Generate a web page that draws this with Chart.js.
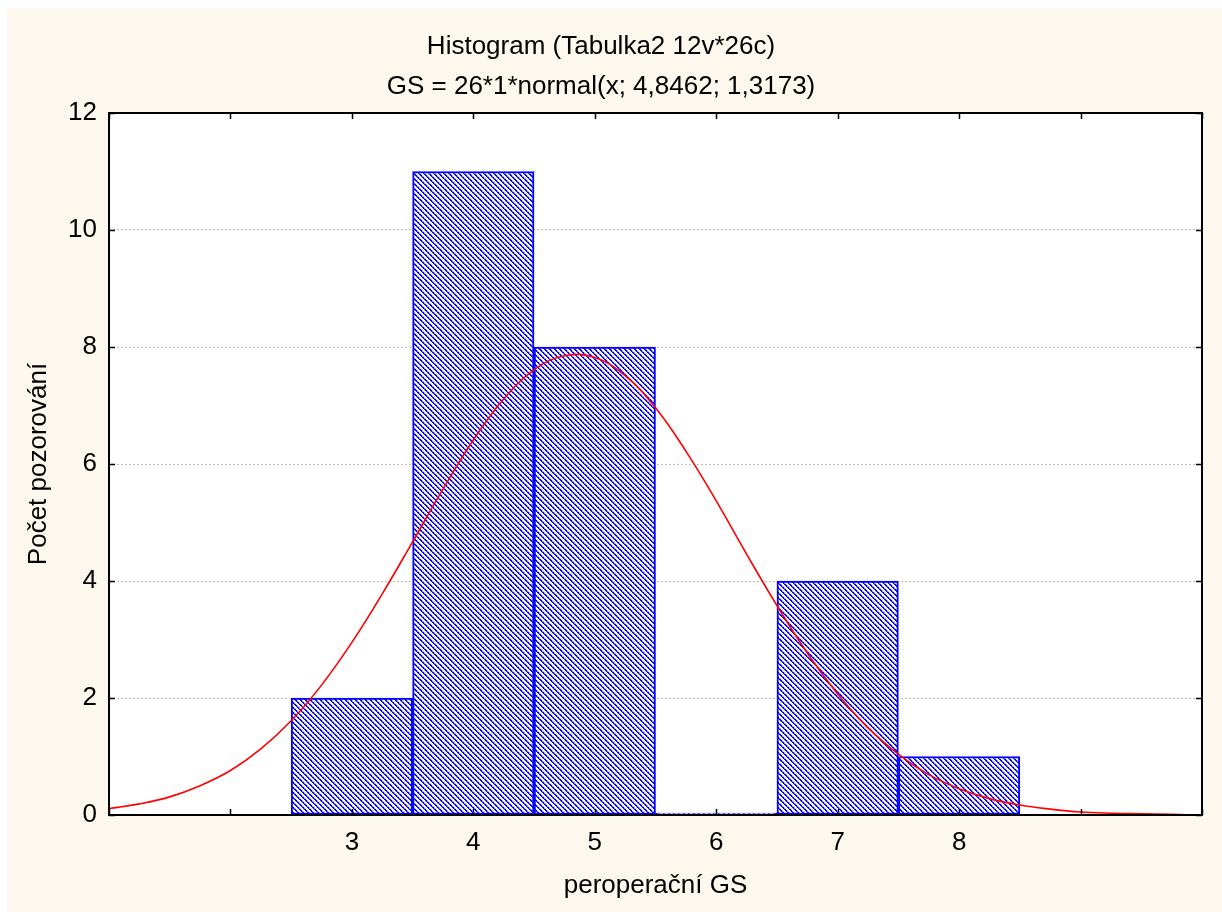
<!DOCTYPE html>
<html>
<head>
<meta charset="utf-8">
<script src="https://cdn.jsdelivr.net/npm/chart.js@4/dist/chart.umd.min.js"></script>
<style>
  html, body { margin: 0; padding: 0; background: #ffffff; }
  canvas { display: block; }
</style>
</head>
<body>
<canvas id="c" width="1222" height="912"></canvas>
<script>
// ---- data ----
const titleLines = ['Histogram (Tabulka2 12v*26c)', 'GS = 26*1*normal(x; 4,8462; 1,3173)'];
const xTitle = 'peroperační GS';
const yTitle = 'Počet pozorování';
const binCenters = [3, 4, 5, 6, 7, 8];
const counts = [2, 11, 8, 0, 4, 1];
const xTickValues = [1, 2, 3, 4, 5, 6, 7, 8, 9, 10];
const xTickLabels = ['', '', '3', '4', '5', '6', '7', '8', '', ''];
const yTickValues = [0, 2, 4, 6, 8, 10, 12];
const curveX = [1, 1.25, 1.5, 1.75, 2, 2.25, 2.5, 2.75, 3, 3.25, 3.5, 3.75, 4, 4.25, 4.5, 4.75, 5, 5.25, 5.5, 5.75, 6, 6.25, 6.5, 6.75, 7, 7.25, 7.5, 7.75, 8, 8.25, 8.5, 8.75, 9, 9.25, 9.5, 9.75, 10];
const curveY = [0.11, 0.19, 0.31, 0.50, 0.76, 1.13, 1.61, 2.22, 2.95, 3.78, 4.67, 5.57, 6.41, 7.11, 7.61, 7.85, 7.82, 7.51, 6.96, 6.22, 5.37, 4.46, 3.58, 2.77, 2.07, 1.49, 1.04, 0.69, 0.45, 0.28, 0.17, 0.10, 0.05, 0.03, 0.02, 0.01, 0.00];

// ---- hatch pattern ----
function makeHatch() {
  const n = 5;
  const t = document.createElement('canvas');
  t.width = n; t.height = n;
  const g = t.getContext('2d');
  g.fillStyle = '#ffffff';
  g.fillRect(0, 0, n, n);
  for (let r = 0; r < n; r++) {
    g.fillStyle = '#d4d4ff';
    g.fillRect((r + 2) % n, r, 1, 1);
    g.fillStyle = (r % 2 === 0) ? '#0000ff' : '#6a6aff';
    g.fillRect((r + 1) % n, r, 1, 1);
    g.fillStyle = '#0000ff';
    g.fillRect(r, r, 1, 1);
  }
  return document.getElementById('c').getContext('2d').createPattern(t, 'repeat');
}

const FONT = '"Liberation Sans", Arial, Helvetica, sans-serif';
const FS = 26;

const framePlugin = {
  id: 'frame',
  beforeDraw(chart) {
    const ctx = chart.ctx;
    const a = chart.chartArea;
    ctx.save();
    ctx.fillStyle = '#ffffff';
    ctx.fillRect(0, 0, chart.width, chart.height);
    ctx.fillStyle = '#fdf8ee';
    ctx.fillRect(7, 8, chart.width - 7, chart.height - 8);
    ctx.fillStyle = '#ffffff';
    ctx.fillRect(a.left, a.top, a.right - a.left, a.bottom - a.top);
    ctx.restore();
  },
  afterDraw(chart) {
    const ctx = chart.ctx;
    const a = chart.chartArea;
    const xs = chart.scales.x, ys = chart.scales.y;
    ctx.save();
    ctx.strokeStyle = '#000000';
    ctx.lineWidth = 1.5;
    ctx.beginPath();
    xTickValues.forEach(v => {
      const px = Math.round(xs.getPixelForValue(v)) + 0.5;
      ctx.moveTo(px, a.bottom); ctx.lineTo(px, a.bottom - 6);
      ctx.moveTo(px, a.top); ctx.lineTo(px, a.top + 6);
    });
    yTickValues.forEach(v => {
      const py = Math.round(ys.getPixelForValue(v)) + 0.5;
      ctx.moveTo(a.left, py); ctx.lineTo(a.left + 6, py);
      ctx.moveTo(a.right, py); ctx.lineTo(a.right - 6, py);
    });
    ctx.stroke();
    ctx.lineWidth = 2;
    ctx.strokeRect(a.left, a.top, a.right - a.left, a.bottom - a.top);
    ctx.restore();
  }
};

Chart.defaults.font.family = FONT;
Chart.defaults.color = '#000000';

new Chart(document.getElementById('c'), {
  type: 'bar',
  data: {
    datasets: [
      {
        type: 'line',
        label: 'normal',
        data: curveX.map((x, i) => ({ x: x, y: curveY[i] })),
        borderColor: '#ff0000',
        borderWidth: 1.6,
        pointRadius: 0,
        tension: 0.4,
        fill: false,
        order: 0
      },
      {
        type: 'bar',
        label: 'GS',
        data: binCenters.map((x, i) => ({ x: x, y: counts[i] })),
        backgroundColor: makeHatch(),
        borderColor: '#0000ff',
        borderWidth: 2,
        borderSkipped: false,
        barPercentage: 1,
        categoryPercentage: 1,
        minBarLength: 2,
        order: 1
      }
    ]
  },
  options: {
    responsive: false,
    animation: false,
    devicePixelRatio: 1,
    layout: { padding: { left: 0, right: 20, top: 0, bottom: 0 } },
    plugins: {
      legend: { display: false },
      tooltip: { enabled: false },
      title: {
        display: true,
        text: titleLines,
        font: { size: FS, weight: 'normal', family: FONT, lineHeight: 40 / FS },
        color: '#000000',
        padding: { top: 27, bottom: 6 }
      }
    },
    scales: {
      x: {
        type: 'linear',
        min: 1,
        max: 10,
        offset: false,
        afterBuildTicks(scale) { scale.ticks = xTickValues.map(v => ({ value: v })); },
        afterFit(scale) { scale.height = 97; },
        ticks: {
          callback(value) { const i = xTickValues.indexOf(value); return i >= 0 ? xTickLabels[i] : ''; },
          font: { size: FS, family: FONT },
          color: '#000000',
          padding: 12,
          maxRotation: 0,
          autoSkip: false
        },
        grid: { display: false, drawTicks: false },
        border: { display: false },
        title: {
          display: true,
          text: xTitle,
          font: { size: FS, family: FONT },
          color: '#000000',
          padding: { top: 4, bottom: 11 }
        }
      },
      y: {
        min: 0,
        max: 12,
        afterBuildTicks(scale) { scale.ticks = yTickValues.map(v => ({ value: v })); },
        afterFit(scale) { scale.width = 109; },
        ticks: {
          font: { size: FS, family: FONT },
          color: '#000000',
          padding: 12
        },
        grid: { color: '#bdbdbd', lineWidth: 1, drawTicks: false },
        border: { display: false, dash: [2, 2] },
        title: {
          display: true,
          text: yTitle,
          font: { size: FS, family: FONT },
          color: '#000000',
          padding: { top: 23, bottom: 0 }
        }
      }
    }
  },
  plugins: [framePlugin]
});
</script>
</body>
</html>
